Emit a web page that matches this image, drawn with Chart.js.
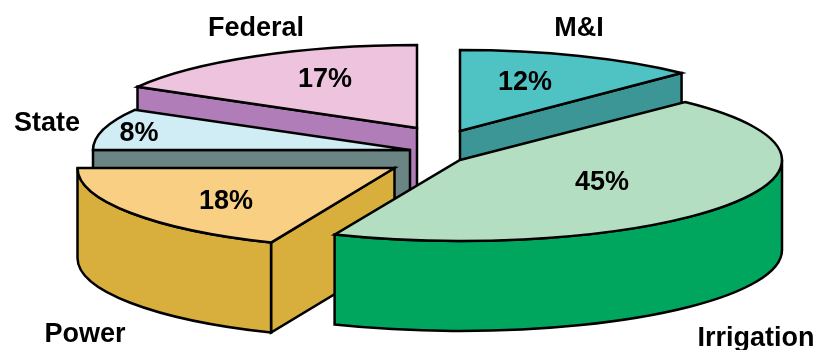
<!DOCTYPE html>
<html>
<head>
<meta charset="utf-8">
<style>
  html, body { margin: 0; padding: 0; background: #fff; }
  canvas { display: block; filter: blur(0.4px); }
</style>
<script src="https://cdn.jsdelivr.net/npm/chart.js@4/dist/chart.umd.min.js"></script>
</head>
<body>
<canvas id="pie" width="817" height="350"></canvas>
<script>
const categories = ['M&I', 'Irrigation', 'Power', 'State', 'Federal'];
const shares = [12, 45, 18, 8, 17];

const topColors = ['#4fc3c4', '#b4dec2', '#f9cf84', '#d0ecf5', '#edc3dd'];
const sideColors = ['#3c9696', '#00a65d', '#d8af3c', '#6a8584', '#b07db8'];

// back to front
const paintOrder = [4, 0, 3, 2, 1];

const pieConfig = {
  rx: [317, 322, 317, 317, 322],
  ry: [81, 81, 81, 81, 83],
  depth: 90,
  // where each wedge tip sits, relative to the chart centre
  shiftX: [51.5, 51.5, -14, 1.5, 8.5],
  shiftY: [-44, -15, -7, -25, -47],
  categoryPos: [[579, 29], [756, 339], [85, 335], [47, 124], [256, 29]],
  sharePos: [[525, 83], [602, 183], [226, 202], [139, 134], [325, 80]]
};

// small angle warp, stands in for the perspective of the original
function warpAngle(a) {
  const s = Math.sin(a);
  return s > 0 ? a - 0.044 * s : a + 0.02 * Math.abs(Math.sin(2 * a));
}

const pie3d = {
  id: 'pie3d',
  beforeDatasetsDraw(chart, args, opts) {
    const ctx = chart.ctx;
    const arcs = chart.getDatasetMeta(0).data;
    ctx.save();
    ctx.lineWidth = 2.5;
    ctx.lineJoin = 'miter';
    ctx.strokeStyle = '#000';
    paintOrder.forEach(i => {
      const p = arcs[i].getProps(['x', 'y', 'startAngle', 'endAngle']);
      drawSlice(ctx, {
        ax: p.x + opts.shiftX[i],
        ay: p.y + opts.shiftY[i],
        rx: opts.rx[i],
        ry: opts.ry[i],
        depth: opts.depth
      }, warpAngle(p.startAngle), warpAngle(p.endAngle), topColors[i], sideColors[i]);
    });
    ctx.restore();
    return false;
  },
  // afterDatasetsDraw does not fire once the dataset draw is cancelled
  afterDraw(chart, args, opts) {
    const ctx = chart.ctx;
    ctx.save();
    ctx.fillStyle = '#000';
    ctx.font = 'bold 27px "Liberation Sans", Arial, sans-serif';
    ctx.textAlign = 'center';
    ctx.textBaseline = 'middle';
    categories.forEach((name, i) => {
      ctx.fillText(name, opts.categoryPos[i][0], opts.categoryPos[i][1]);
      ctx.fillText(shares[i] + '%', opts.sharePos[i][0], opts.sharePos[i][1]);
    });
    ctx.restore();
  }
};

function drawSlice(ctx, s, start, end, topColor, sideColor) {
  const rimX = a => s.ax + s.rx * Math.cos(a);
  const rimY = a => s.ay + s.ry * Math.sin(a);

  // cut faces that look toward the viewer
  ctx.fillStyle = sideColor;
  if (Math.cos(start) < -0.001) radialFace(ctx, s, rimX(start), rimY(start));
  if (Math.cos(end) > 0.001) radialFace(ctx, s, rimX(end), rimY(end));

  // front part of the rim, canvas angles 0..PI
  const from = Math.max(start, 0);
  const to = Math.min(end, Math.PI);
  if (to > from) {
    ctx.beginPath();
    ctx.ellipse(s.ax, s.ay, s.rx, s.ry, 0, from, to);
    ctx.ellipse(s.ax, s.ay + s.depth, s.rx, s.ry, 0, to, from, true);
    ctx.closePath();
    ctx.fill();
    ctx.stroke();
  }

  // top
  ctx.beginPath();
  ctx.moveTo(s.ax, s.ay);
  ctx.ellipse(s.ax, s.ay, s.rx, s.ry, 0, start, end);
  ctx.closePath();
  ctx.fillStyle = topColor;
  ctx.fill();
  ctx.stroke();
}

function radialFace(ctx, s, px, py) {
  ctx.beginPath();
  ctx.moveTo(s.ax, s.ay);
  ctx.lineTo(px, py);
  ctx.lineTo(px, py + s.depth);
  ctx.lineTo(s.ax, s.ay + s.depth);
  ctx.closePath();
  ctx.fill();
  ctx.stroke();
}

const shareChart = new Chart(document.getElementById('pie'), {
  type: 'pie',
  data: {
    labels: categories,
    datasets: [{ data: shares, backgroundColor: topColors }]
  },
  options: {
    responsive: false,
    animation: false,
    layout: { padding: 0 },
    plugins: {
      legend: { display: false },
      tooltip: { enabled: false },
      pie3d: pieConfig
    }
  },
  plugins: [pie3d]
});
</script>
</body>
</html>
